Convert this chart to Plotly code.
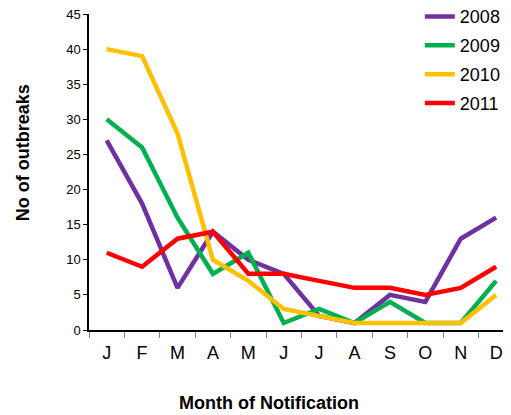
import plotly.graph_objects as go

months = ["J", "F", "M", "A", "M", "J", "J", "A", "S", "O", "N", "D"]
years = ["2008", "2009", "2010", "2011"]
v2008 = [27, 18, 6, 14, 10, 8, 2, 1, 5, 4, 13, 16]
v2009 = [30, 26, 16, 8, 11, 1, 3, 1, 4, 1, 1, 7]
v2010 = [40, 39, 28, 10, 7, 3, 2, 1, 1, 1, 1, 5]
v2011 = [11, 9, 13, 14, 8, 8, 7, 6, 6, 5, 6, 9]
colors = ["#7030A0", "#00B050", "#FFC000", "#FF0000"]
series = [v2008, v2009, v2010, v2011]
x_title = "Month of Notification"
y_title = "No of outbreaks"

x = list(range(len(months)))
fig = go.Figure()
for name, vals, c in zip(years, series, colors):
    fig.add_trace(go.Scatter(x=x, y=vals, name=name, mode="lines",
                             line=dict(color=c, width=4.5), legendgroup=name))

FONT = "Liberation Sans, Arial, sans-serif"
fig.update_layout(
    width=503, height=407,
    margin=dict(l=81, r=0, t=6, b=85, autoexpand=False),
    paper_bgcolor="white", plot_bgcolor="white",
    font=dict(family=FONT, color="black"),
    showlegend=True,
    legend=dict(x=0.784, y=1.05, xanchor="left", yanchor="top",
                font=dict(size=18, family=FONT), tracegroupgap=2.5,
                bgcolor="rgba(0,0,0,0)"),
    xaxis=dict(range=[-0.5, 11.42], tickmode="array", tickvals=x, ticktext=months,
               showline=True, linecolor="black", linewidth=1.5,
               showgrid=False, zeroline=False, ticks="", automargin=False,
               tickfont=dict(size=18), ticklabelstandoff=6, ticklabeloverflow="allow"),
    yaxis=dict(range=[0, 45], dtick=5, showline=True, linecolor="black", linewidth=1.5,
               showgrid=False, zeroline=False, ticks="outside", ticklen=4, automargin=False,
               tickcolor="black", tickfont=dict(size=13), ticklabeloverflow="allow"),
    annotations=[
        dict(text="<b>" + x_title + "</b>", xref="paper", yref="paper", x=0.4265, y=-0.232,
             xanchor="center", yanchor="middle", showarrow=False, font=dict(size=18)),
        dict(text="<b>" + y_title + "</b>", xref="paper", yref="paper", x=-0.156, y=0.56,
             xanchor="center", yanchor="middle", showarrow=False, textangle=-90,
             font=dict(size=18)),
    ],
)
# category boundary ticks on x axis
fig.update_xaxes(minor=dict(tickmode="array", tickvals=[i - 0.5 for i in range(13)],
                            ticks="outside", ticklen=6, tickcolor="gray", showgrid=False))
fig.write_html("out.html")
